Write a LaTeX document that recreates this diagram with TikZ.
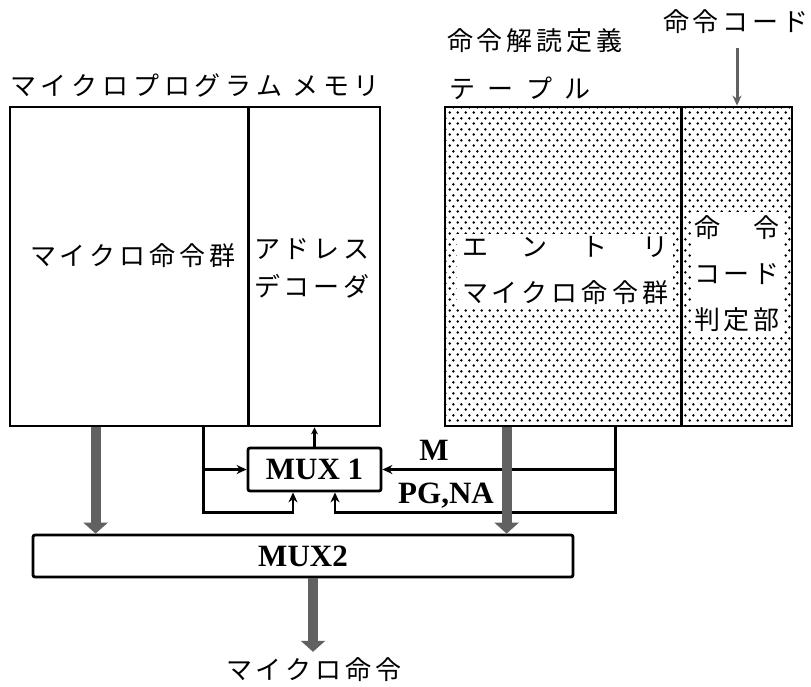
\documentclass[tikz,border=0pt]{standalone}
\usepackage{fontspec}
\newfontfamily\jpfont{Noto Sans CJK JP}
\newfontfamily\latinfont{Liberation Serif}
\usetikzlibrary{arrows.meta,patterns.meta}
\definecolor{shaftgray}{rgb}{.38,.38,.38}
\tikzdeclarepattern{
  name=tabledots,
  type=uncolored,
  bounding box={(0pt,0pt) and (8pt,11pt)},
  tile size={(8pt,11pt)},
  code={\fill (2pt,2.75pt) circle (1.5pt); \fill (6pt,8.25pt) circle (1.5pt);}
}
\newcommand{\spreadjp}[2]{\makebox[#1][s]{#2}}
\tikzset{
  box/.style={draw,line width=2.8pt,rectangle,inner sep=0pt},
  wire/.style={line width=2.4pt},
  wirearrow/.style={wire,-{Stealth[length=10pt,width=9pt]}},
  fatarrow/.style={draw=shaftgray,line width=10pt,-{Triangle[length=11pt,width=24pt]}},
  jp/.style={font=\jpfont\fontsize{26}{30}\selectfont,inner sep=0pt},
  jpblock/.style={font=\jpfont\fontsize{26}{46}\selectfont,fill=white,align=center},
  latin/.style={font=\latinfont\bfseries\fontsize{31}{34}\selectfont,inner sep=0pt}
}

\begin{document}
\begin{tikzpicture}[x=1pt,y=-1pt]
\useasboundingbox (0,0) rectangle (811,687);

% micro program memory
\node[box,minimum width=370,minimum height=319] (mem) at (195,266.5) {};
\draw[line width=2.8pt] ([xshift=240pt]mem.north west) -- ([xshift=240pt]mem.south west);
\node[jp] (memlabel) at (195,85) {\spreadjp{370pt}{マ イ ク ロ プ ロ グ ラ ム \ メ モ リ}};
\node[jp] (memtext) at (131,256) {\spreadjp{202pt}{マ イ ク ロ 命 令 群}};
\node[jp] (addr1) at (311,249) {\spreadjp{114pt}{ア ド レ ス}};
\node[jp] (addr2) at (311,286) {\spreadjp{114pt}{デ コ ー ダ}};

% decode table
\node[box,minimum width=347,minimum height=319,pattern=tabledots] (tbl) at (618.5,266.5) {};
\draw[line width=2.8pt] ([xshift=238pt]tbl.north west) -- ([xshift=238pt]tbl.south west);
\node[jp] (tbllabel1) at (526,41) {\spreadjp{158pt}{命 令 解 読 定 義}};
\node[jp] (tbllabel2) at (520,88) {\spreadjp{142pt}{テ ー プ ル}};
\node[jp] (codelabel) at (731,22) {\spreadjp{136pt}{命 令 コ ー ド}};
\node[jpblock,inner xsep=5pt,inner ysep=3pt] (entry) at (565,271)
  {\spreadjp{206pt}{エ ン ト リ}\\\spreadjp{206pt}{マ イ ク ロ 命 令 群}};
\node[jpblock,inner xsep=3pt,inner ysep=4pt] (judge) at (737,274)
  {\spreadjp{86pt}{命 令}\\\spreadjp{86pt}{コ ー ド}\\\spreadjp{86pt}{判 定 部}};

% multiplexers
\node[box,rounded corners=2pt,minimum width=133,minimum height=43,latin] (mux1) at (314.5,469.5) {MUX 1};
\node[box,rounded corners=2pt,minimum width=540,minimum height=42,latin] (mux2) at (303,556) {MUX2};
\node[latin] (mlabel) at (434,450) {M};
\node[latin] (pglabel) at (446,496) {PG,NA};
\node[jp] (outlabel) at (308,670) {\spreadjp{164pt}{マ イ ク ロ 命 令}};

\coordinate (memtap) at ([xshift=87pt]mem.south west);
\coordinate (memfb) at ([xshift=195pt]mem.south west);
\coordinate (tbltap) at ([xshift=63pt]tbl.south west);
\coordinate (tblfb) at ([xshift=172pt]tbl.south west);
\coordinate (mux1inA) at ([xshift=-21.5pt]mux1.south);
\coordinate (mux1inB) at ([xshift=20.5pt]mux1.south);
\coordinate (outtap) at ([xshift=10pt]mux2.south);
\coordinate (codetap) at ([xshift=6pt,yshift=-14pt]codelabel.south);

% thin connectors
\draw[wire,-{Stealth[length=7pt,width=7pt]}] (mux1.north) -- (mux1.north |- mem.south);
\draw[wirearrow] (memfb) |- (mux1.west);
\draw[wirearrow] (memfb) -- ++(0,85) -| (mux1inA);
\draw[wirearrow] (tblfb) |- (mux1.east);
\draw[wirearrow] (tblfb) -- ++(0,85) -| (mux1inB);
\draw[wirearrow,draw=shaftgray,line width=3pt] (codetap) -- (codetap |- tbl.north);

% wide buses
\draw[fatarrow] (memtap) -- (memtap |- mux2.north);
\draw[fatarrow] (tbltap) -- (tbltap |- mux2.north);
\draw[fatarrow,shorten >=6pt] (outtap) -- (outtap |- outlabel.north);

\end{tikzpicture}
\end{document}
